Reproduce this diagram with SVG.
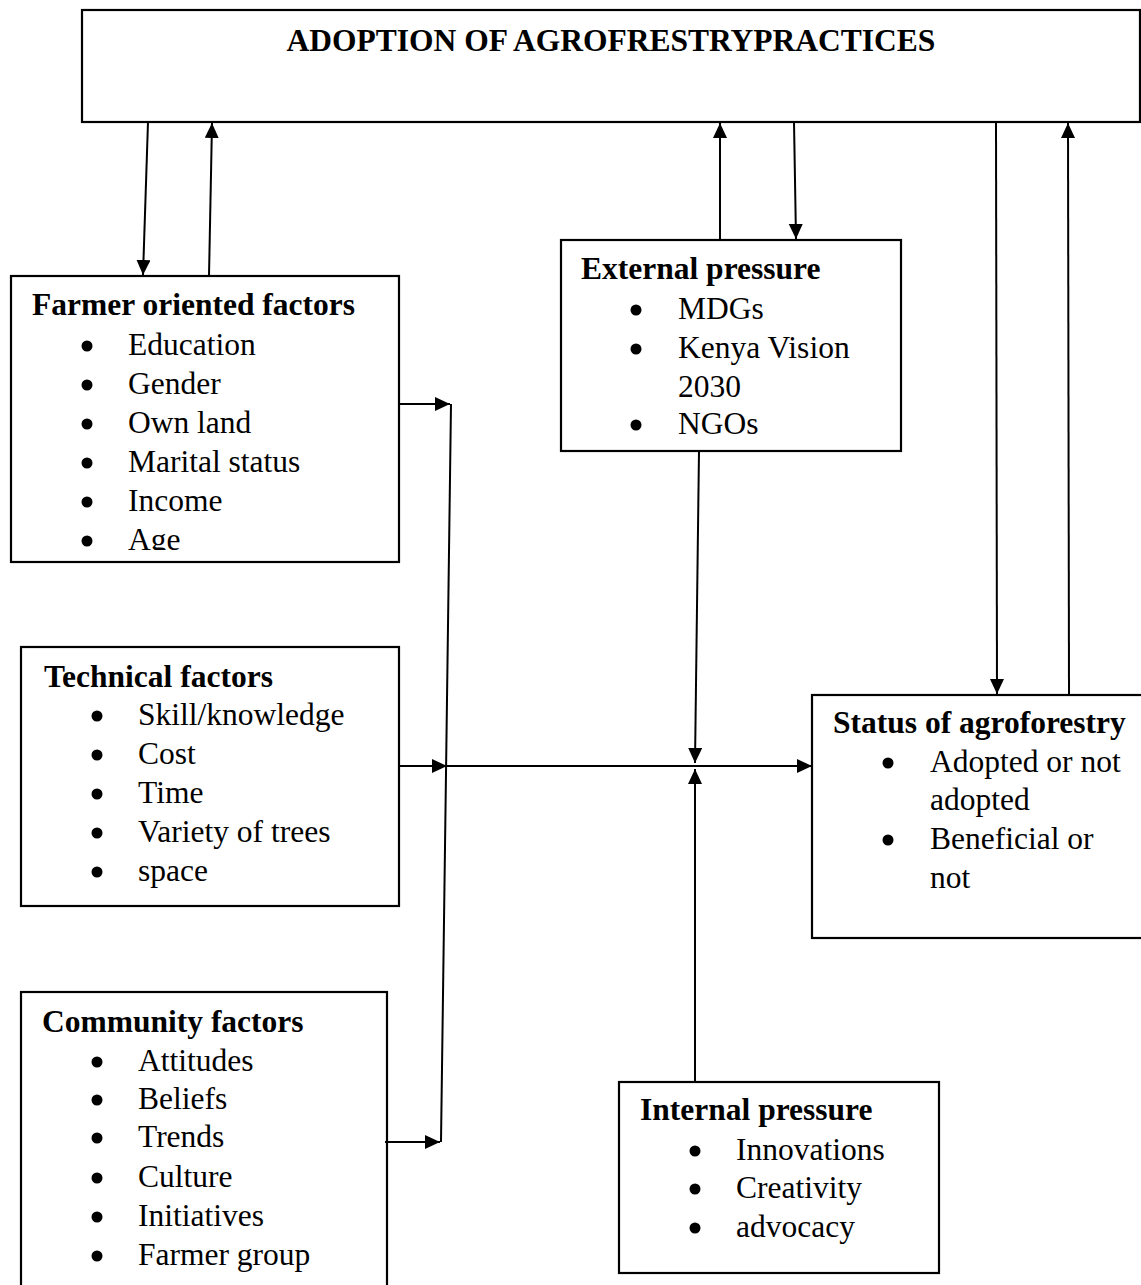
<svg xmlns="http://www.w3.org/2000/svg" width="1141" height="1285" viewBox="0 0 1141 1285">
<style>
.box{fill:#fff;stroke:#000;stroke-width:2.2}
.t{font-family:"Liberation Serif","Times New Roman",serif;font-size:31.5px;fill:#000}
.h{font-weight:bold}
.c{stroke:#000;stroke-width:2;fill:none}
.b{fill:#000}
</style>
<defs>
<marker id="ah" markerUnits="userSpaceOnUse" markerWidth="17" markerHeight="15" refX="15" refY="7" orient="auto">
<path d="M0,0 L15,7 L0,14 z" fill="#000"/>
</marker>
<clipPath id="farmclip"><rect x="0" y="270" width="420" height="280"/></clipPath>
</defs>
<rect width="1141" height="1285" fill="#fff"/>

<g id="adoption">
<rect class="box" x="82" y="10" width="1058" height="112"/>
<text class="t h" x="611" y="50.5" text-anchor="middle">ADOPTION OF AGROFRESTRYPRACTICES</text>
</g>

<g id="farmer">
<rect class="box" x="11" y="276" width="388" height="286"/>
<text class="t h" x="32" y="315">Farmer oriented factors</text>
<g clip-path="url(#farmclip)">
<circle class="b" cx="87" cy="346" r="5.5"/><text class="t" x="128" y="355">Education</text>
<circle class="b" cx="87" cy="385" r="5.5"/><text class="t" x="128" y="394">Gender</text>
<circle class="b" cx="87" cy="424" r="5.5"/><text class="t" x="128" y="433">Own land</text>
<circle class="b" cx="87" cy="463" r="5.5"/><text class="t" x="128" y="472">Marital status</text>
<circle class="b" cx="87" cy="502" r="5.5"/><text class="t" x="128" y="511">Income</text>
<circle class="b" cx="87" cy="541" r="5.5"/><text class="t" x="128" y="550">Age</text>
</g>
</g>

<g id="technical">
<rect class="box" x="21" y="647" width="378" height="259"/>
<text class="t h" x="44" y="687">Technical factors</text>
<circle class="b" cx="97" cy="716" r="5.5"/><text class="t" x="138" y="725">Skill/knowledge</text>
<circle class="b" cx="97" cy="755" r="5.5"/><text class="t" x="138" y="764">Cost</text>
<circle class="b" cx="97" cy="794" r="5.5"/><text class="t" x="138" y="803">Time</text>
<circle class="b" cx="97" cy="833" r="5.5"/><text class="t" x="138" y="842">Variety of trees</text>
<circle class="b" cx="97" cy="872" r="5.5"/><text class="t" x="138" y="881">space</text>
</g>

<g id="community">
<rect class="box" x="21" y="992" width="366" height="310"/>
<text class="t h" x="42" y="1032">Community factors</text>
<circle class="b" cx="97" cy="1062" r="5.5"/><text class="t" x="138" y="1071">Attitudes</text>
<circle class="b" cx="97" cy="1100" r="5.5"/><text class="t" x="138" y="1109">Beliefs</text>
<circle class="b" cx="97" cy="1138" r="5.5"/><text class="t" x="138" y="1147">Trends</text>
<circle class="b" cx="97" cy="1178" r="5.5"/><text class="t" x="138" y="1187">Culture</text>
<circle class="b" cx="97" cy="1217" r="5.5"/><text class="t" x="138" y="1226">Initiatives</text>
<circle class="b" cx="97" cy="1256" r="5.5"/><text class="t" x="138" y="1265">Farmer group</text>
</g>

<g id="external">
<rect class="box" x="561" y="240" width="340" height="211"/>
<text class="t h" x="581" y="279">External pressure</text>
<circle class="b" cx="636" cy="310" r="5.5"/><text class="t" x="678" y="319">MDGs</text>
<circle class="b" cx="636" cy="349" r="5.5"/><text class="t" x="678" y="358">Kenya Vision</text>
<text class="t" x="678" y="397">2030</text>
<circle class="b" cx="636" cy="425" r="5.5"/><text class="t" x="678" y="434">NGOs</text>
</g>

<g id="status">
<rect class="box" x="812" y="695" width="340" height="243"/>
<text class="t h" x="833" y="733">Status of agroforestry</text>
<circle class="b" cx="888" cy="763" r="5.5"/><text class="t" x="930" y="772">Adopted or not</text>
<text class="t" x="930" y="810">adopted</text>
<circle class="b" cx="888" cy="840" r="5.5"/><text class="t" x="930" y="849">Beneficial or</text>
<text class="t" x="930" y="888">not</text>
</g>

<g id="internal">
<rect class="box" x="619" y="1082" width="320" height="191"/>
<text class="t h" x="640" y="1120">Internal pressure</text>
<circle class="b" cx="695" cy="1151" r="5.5"/><text class="t" x="736" y="1160">Innovations</text>
<circle class="b" cx="695" cy="1189" r="5.5"/><text class="t" x="736" y="1198">Creativity</text>
<circle class="b" cx="695" cy="1228" r="5.5"/><text class="t" x="736" y="1237">advocacy</text>
</g>

<g id="connectors">
<line class="c" x1="148" y1="122" x2="143" y2="275" marker-end="url(#ah)"/>
<line class="c" x1="209" y1="276" x2="212" y2="123" marker-end="url(#ah)"/>
<line class="c" x1="720" y1="240" x2="720" y2="123" marker-end="url(#ah)"/>
<line class="c" x1="794" y1="122" x2="796" y2="239" marker-end="url(#ah)"/>
<line class="c" x1="996" y1="122" x2="997" y2="694" marker-end="url(#ah)"/>
<line class="c" x1="1069" y1="695" x2="1068" y2="123" marker-end="url(#ah)"/>
<line class="c" x1="399" y1="404" x2="450" y2="404" marker-end="url(#ah)"/>
<line class="c" x1="451" y1="404" x2="441" y2="1142"/>
<line class="c" x1="385" y1="1142" x2="440" y2="1142" marker-end="url(#ah)"/>
<line class="c" x1="399" y1="766" x2="447" y2="766" marker-end="url(#ah)"/>
<line class="c" x1="447" y1="766" x2="812" y2="766" marker-end="url(#ah)"/>
<line class="c" x1="699" y1="451" x2="695" y2="763" marker-end="url(#ah)"/>
<line class="c" x1="695" y1="1082" x2="695" y2="769" marker-end="url(#ah)"/>
</g>
</svg>
